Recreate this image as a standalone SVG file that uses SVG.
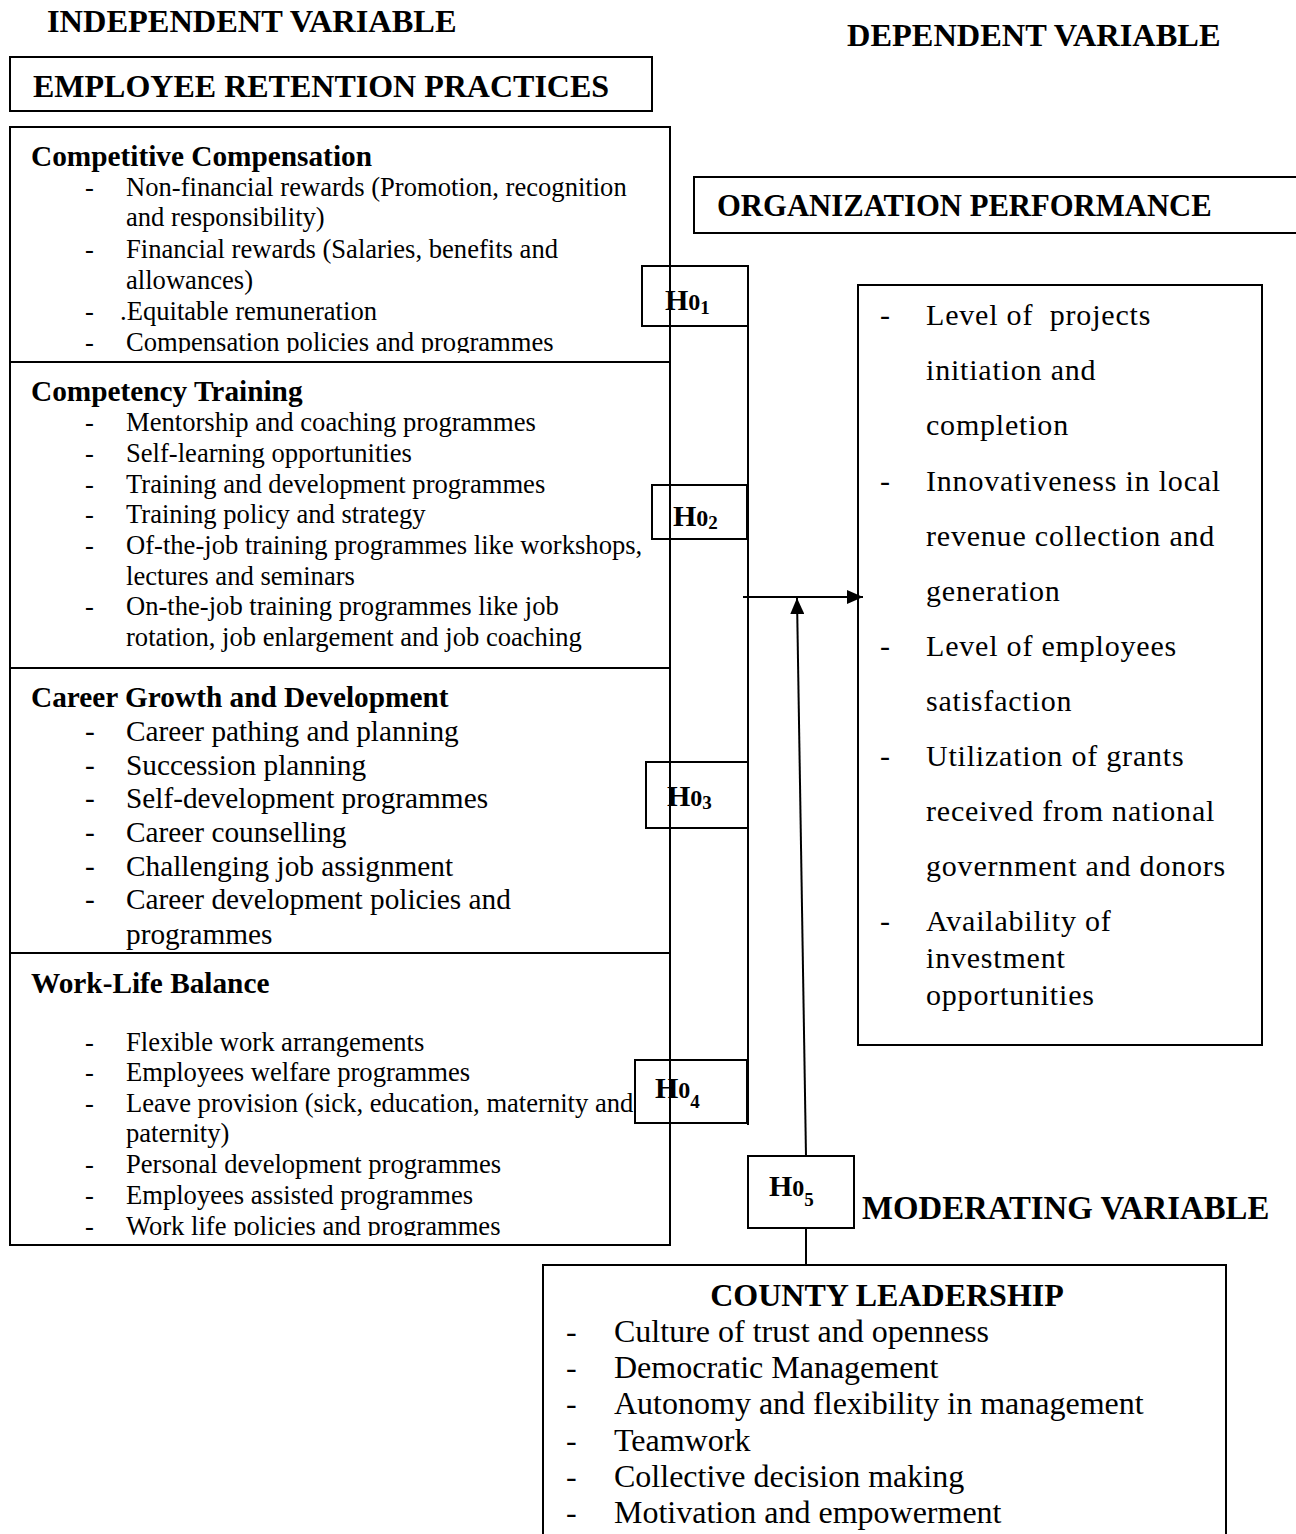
<svg xmlns="http://www.w3.org/2000/svg" width="1296" height="1534" viewBox="0 0 1296 1534">
<style>
.box{fill:none;stroke:#000;stroke-width:2}
.ln{fill:none;stroke:#000;stroke-width:2}
text{font-family:"Liberation Serif","Times New Roman",serif;fill:#000}
.hd{font-weight:bold;font-size:32.4px}
.sec{font-weight:bold;font-size:29.3px}
.it{font-size:26.6px}
.it2{font-size:29.3px}
.rt{font-size:30px;letter-spacing:0.8px}
.ct{font-size:32px}
.h{font-weight:bold;font-size:30px}
.h0{font-size:24px}
.hs{font-size:19px}
</style>
<defs>
<marker id="ah2" viewBox="0 0 16 14" refX="16" refY="7" markerWidth="16" markerHeight="14" markerUnits="userSpaceOnUse" orient="auto">
<path d="M0,0 L16,7 L0,14 z" fill="#000"/>
</marker>
<clipPath id="c1"><rect x="10" y="127" width="660" height="226"/></clipPath>
<clipPath id="c4"><rect x="10" y="953" width="660" height="283"/></clipPath>
</defs>
<rect width="1296" height="1534" fill="#fff"/>

<g id="labels">
<text class="hd" x="47" y="32">INDEPENDENT VARIABLE</text>
<text class="hd" x="847" y="46">DEPENDENT VARIABLE</text>
<text class="hd" x="862" y="1219" style="font-size:32.8px">MODERATING VARIABLE</text>
</g>

<g id="connectors">
<line class="ln" x1="748" y1="326" x2="748" y2="1125"/>
<line class="ln" x1="743" y1="597" x2="863" y2="597" marker-end="url(#ah2)"/>
<line class="ln" x1="806" y1="1156" x2="797" y2="598" marker-end="url(#ah2)"/>
<line class="ln" x1="806" y1="1228" x2="806" y2="1265"/>
</g>

<g id="title-ind">
<rect class="box" x="10" y="57" width="642" height="54"/>
<text class="hd" x="33" y="97" style="font-size:32px">EMPLOYEE RETENTION PRACTICES</text>
</g>

<g id="title-dep">
<rect class="box" x="694" y="177" width="604" height="56"/>
<text class="hd" x="717" y="216" style="font-size:30.7px">ORGANIZATION PERFORMANCE</text>
</g>

<g id="retention">
<rect class="box" x="10" y="127" width="660" height="1118"/>
<line class="ln" x1="10" y1="362" x2="670" y2="362"/>
<line class="ln" x1="10" y1="668" x2="670" y2="668"/>
<line class="ln" x1="10" y1="953" x2="670" y2="953"/>

<g clip-path="url(#c1)">
<text class="sec" x="31" y="166">Competitive Compensation</text>
<g class="it">
<text x="85" y="196">-</text><text x="126" y="196">Non-financial rewards (Promotion, recognition</text>
<text x="126" y="226">and responsibility)</text>
<text x="85" y="258">-</text><text x="126" y="258">Financial rewards (Salaries, benefits and</text>
<text x="126" y="289">allowances)</text>
<text x="85" y="320">-</text><text x="120" y="320">.Equitable remuneration</text>
<text x="85" y="351">-</text><text x="126" y="351">Compensation policies and programmes</text>
</g>
</g>

<text class="sec" x="31" y="401">Competency Training</text>
<g class="it">
<text x="85" y="431">-</text><text x="126" y="431">Mentorship and coaching programmes</text>
<text x="85" y="462">-</text><text x="126" y="462">Self-learning opportunities</text>
<text x="85" y="493">-</text><text x="126" y="493">Training and development programmes</text>
<text x="85" y="523">-</text><text x="126" y="523">Training policy and strategy</text>
<text x="85" y="554">-</text><text x="126" y="554">Of-the-job training programmes like workshops,</text>
<text x="126" y="585">lectures and seminars</text>
<text x="85" y="615">-</text><text x="126" y="615">On-the-job training programmes like job</text>
<text x="126" y="646">rotation, job enlargement and job coaching</text>
</g>

<text class="sec" x="31" y="707">Career Growth and Development</text>
<g class="it2">
<text x="85" y="741">-</text><text x="126" y="741">Career pathing and planning</text>
<text x="85" y="775">-</text><text x="126" y="775">Succession planning</text>
<text x="85" y="808">-</text><text x="126" y="808">Self-development programmes</text>
<text x="85" y="842">-</text><text x="126" y="842">Career counselling</text>
<text x="85" y="876">-</text><text x="126" y="876">Challenging job assignment</text>
<text x="85" y="909">-</text><text x="126" y="909">Career development policies and</text>
<text x="126" y="944">programmes</text>
</g>

<text class="sec" x="31" y="993">Work-Life Balance</text>
<g class="it" clip-path="url(#c4)">
<text x="85" y="1051">-</text><text x="126" y="1051">Flexible work arrangements</text>
<text x="85" y="1081">-</text><text x="126" y="1081">Employees welfare programmes</text>
<text x="85" y="1112">-</text><text x="126" y="1112">Leave provision (sick, education, maternity and</text>
<text x="126" y="1142">paternity)</text>
<text x="85" y="1173">-</text><text x="126" y="1173">Personal development programmes</text>
<text x="85" y="1204">-</text><text x="126" y="1204">Employees assisted programmes</text>
<text x="85" y="1235">-</text><text x="126" y="1235">Work life policies and programmes</text>
</g>
</g>

<g id="h01">
<rect class="box" x="642" y="266" width="106" height="60" fill="#fff"/>
<text class="h" x="665" y="310">H<tspan class="h0">0</tspan><tspan class="hs" dy="4">1</tspan></text>
</g>
<g id="h02">
<rect class="box" x="652" y="485" width="95" height="54" fill="#fff"/>
<text class="h" x="673" y="526">H<tspan class="h0">0</tspan><tspan class="hs" dy="3">2</tspan></text>
</g>
<g id="h03">
<rect class="box" x="646" y="762" width="102" height="66" fill="#fff"/>
<text class="h" x="667" y="806">H<tspan class="h0">0</tspan><tspan class="hs" dy="3">3</tspan></text>
</g>
<g id="h04">
<rect class="box" x="635" y="1060" width="112" height="63" fill="#fff"/>
<text class="h" x="655" y="1098">H<tspan class="h0">0</tspan><tspan class="hs" dy="10">4</tspan></text>
</g>
<g id="h05">
<rect class="box" x="748" y="1156" width="106" height="72" fill="#fff"/>
<text class="h" x="769" y="1196">H<tspan class="h0">0</tspan><tspan class="hs" dy="10">5</tspan></text>
</g>

<g id="performance">
<rect class="box" x="858" y="285" width="404" height="760"/>
<g class="rt">
<text x="880" y="325">-</text><text x="926" y="325" xml:space="preserve">Level of  projects</text>
<text x="926" y="380">initiation and</text>
<text x="926" y="435">completion</text>
<text x="880" y="491">-</text><text x="926" y="491">Innovativeness in local</text>
<text x="926" y="546">revenue collection and</text>
<text x="926" y="601">generation</text>
<text x="880" y="656">-</text><text x="926" y="656">Level of employees</text>
<text x="926" y="711">satisfaction</text>
<text x="880" y="766">-</text><text x="926" y="766">Utilization of grants</text>
<text x="926" y="821">received from national</text>
<text x="926" y="876">government and donors</text>
<text x="880" y="931">-</text><text x="926" y="931">Availability of</text>
<text x="926" y="968">investment</text>
<text x="926" y="1005">opportunities</text>
</g>
</g>

<g id="leadership">
<path class="ln" d="M543,1540 V1265 H1226 V1540"/>
<text class="hd" x="887" y="1306" text-anchor="middle" style="font-size:32px">COUNTY LEADERSHIP</text>
<g class="ct">
<text x="566" y="1342">-</text><text x="614" y="1342">Culture of trust and openness</text>
<text x="566" y="1378">-</text><text x="614" y="1378">Democratic Management</text>
<text x="566" y="1414">-</text><text x="614" y="1414">Autonomy and flexibility in management</text>
<text x="566" y="1451">-</text><text x="614" y="1451">Teamwork</text>
<text x="566" y="1487">-</text><text x="614" y="1487">Collective decision making</text>
<text x="566" y="1523">-</text><text x="614" y="1523">Motivation and empowerment</text>
</g>
</g>
</svg>
